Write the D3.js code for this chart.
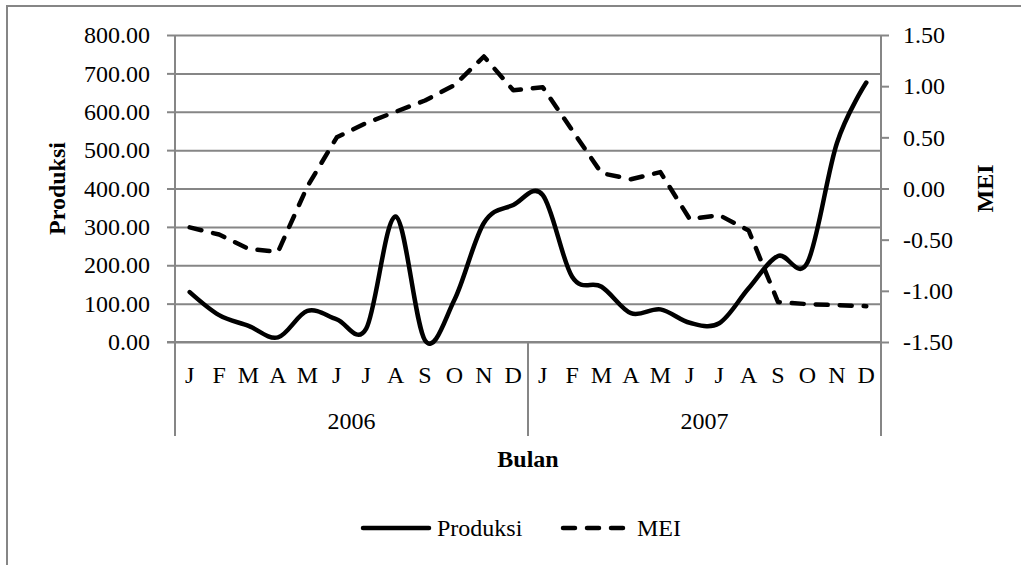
<!DOCTYPE html>
<html>
<head>
<meta charset="utf-8">
<script src="https://cdn.jsdelivr.net/npm/d3@7"></script>
<style>
  body { margin: 0; background: #fff; }
  text { font-family: "Liberation Serif", "Times New Roman", serif; fill: #000; }
  .axis-title { font-weight: bold; }
</style>
</head>
<body>
<div id="chart"></div>
<script>
const months = ["J", "F", "M", "A", "M", "J", "J", "A", "S", "O", "N", "D"];
const years = ["2006", "2007"];
const produksi = [130, 70, 42, 12, 81, 59, 35, 327, 4, 110, 310, 357,
                  383, 170, 144, 75, 85, 50, 49, 140, 224, 207, 518, 676];
const mei = [-0.38, -0.45, -0.59, -0.62, 0.02, 0.50, 0.64, 0.75, 0.86, 1.01, 1.29, 0.96,
             0.99, 0.57, 0.15, 0.09, 0.16, -0.30, -0.26, -0.41, -1.11, -1.13, -1.14, -1.15];
const leftTicks = [0, 100, 200, 300, 400, 500, 600, 700, 800];
const rightTicks = [-1.5, -1, -0.5, 0, 0.5, 1, 1.5];

const W = 1021, H = 565;
const MARGIN = { top: 35, right: 140, bottom: 223, left: 175 };
const innerW = W - MARGIN.left - MARGIN.right;
const innerH = H - MARGIN.top - MARGIN.bottom;
const GRAY = "#868686";
const FONT = 24;

const svg = d3.select("#chart").append("svg").attr("width", W).attr("height", H);

// outer chart border (runs off the right and bottom edges)
svg.append("rect")
  .attr("x", 7).attr("y", 6).attr("width", 1100).attr("height", 700)
  .attr("fill", "none").attr("stroke", GRAY).attr("stroke-width", 2);

const g = svg.append("g").attr("transform", `translate(${MARGIN.left},${MARGIN.top})`);

const cats = d3.range(months.length * years.length);
const x = d3.scaleBand().domain(cats).range([0, innerW]).padding(0);
const cx = i => x(i) + x.bandwidth() / 2;
const yL = d3.scaleLinear().domain([0, 800]).range([innerH, 0]);
const yR = d3.scaleLinear().domain([-1.5, 1.5]).range([innerH, 0]);
const fmt2 = d3.formatLocale({ decimal: ".", thousands: ",", grouping: [3], currency: ["", ""], minus: "-" }).format(".2f");

// gridlines
const grid = g.append("g")
  .call(d3.axisLeft(yL).tickValues(leftTicks).tickSize(-innerW).tickFormat(""));
grid.select(".domain").remove();
grid.selectAll("line").attr("stroke", GRAY).attr("stroke-width", 2);

// left axis
const gyL = g.append("g")
  .call(d3.axisLeft(yL).tickValues(leftTicks).tickSize(8).tickPadding(17).tickFormat(fmt2));
gyL.selectAll("line, .domain").attr("stroke", GRAY).attr("stroke-width", 2);
gyL.select(".domain").attr("d", `M0,${innerH}V0`);
gyL.selectAll("text").attr("font-size", FONT).attr("font-family", "Liberation Serif").attr("fill", "#000");

// right axis
const gyR = g.append("g").attr("transform", `translate(${innerW},0)`)
  .call(d3.axisRight(yR).tickValues(rightTicks).tickSize(8).tickPadding(14).tickFormat(fmt2));
gyR.selectAll("line, .domain").attr("stroke", GRAY).attr("stroke-width", 2);
gyR.select(".domain").attr("d", `M0,${innerH}V0`);
gyR.selectAll("text").attr("font-size", FONT).attr("font-family", "Liberation Serif").attr("fill", "#000");

// category axis: month labels + year groups
const gx = g.append("g").attr("transform", `translate(0,${innerH})`);
gx.append("line").attr("x1", -8).attr("x2", innerW)
  .attr("stroke", GRAY).attr("stroke-width", 2);
gx.selectAll("text.month").data(cats).join("text")
  .attr("class", "month")
  .attr("x", d => cx(d)).attr("y", 41)
  .attr("text-anchor", "middle").attr("font-size", FONT)
  .text(d => months[d % 12]);
const bounds = d3.range(years.length + 1).map(k => k * months.length);
gx.selectAll("line.sep").data(bounds).join("line")
  .attr("class", "sep")
  .attr("x1", d => d === cats.length ? innerW : x(d))
  .attr("x2", d => d === cats.length ? innerW : x(d))
  .attr("y1", 0).attr("y2", 94)
  .attr("stroke", GRAY).attr("stroke-width", 2);
gx.selectAll("text.year").data(years).join("text")
  .attr("class", "year")
  .attr("x", (d, k) => (x(k * 12) + x(k * 12 + 11) + x.bandwidth()) / 2)
  .attr("y", 87)
  .attr("text-anchor", "middle").attr("font-size", FONT)
  .text(d => d);

// axis titles
g.append("text").attr("class", "axis-title")
  .attr("x", innerW / 2).attr("y", innerH + 125)
  .attr("text-anchor", "middle").attr("font-size", FONT)
  .text("Bulan");
g.append("text").attr("class", "axis-title")
  .attr("transform", `translate(${-110},${innerH / 2}) rotate(-90)`)
  .attr("text-anchor", "middle").attr("font-size", FONT)
  .text("Produksi");
g.append("text").attr("class", "axis-title")
  .attr("transform", `translate(${innerW + 112},${innerH / 2}) rotate(-90)`)
  .attr("text-anchor", "middle").attr("font-size", FONT)
  .text("MEI");

// series: Produksi smoothed, MEI straight segments
const lineP = d3.line().x((d, i) => cx(i)).y(d => yL(d)).curve(d3.curveCatmullRom.alpha(0));
const lineM = d3.line().x((d, i) => cx(i)).y(d => yR(d));

g.append("path").datum(mei)
  .attr("d", lineM).attr("fill", "none").attr("stroke", "#000")
  .attr("stroke-width", 4.5).attr("stroke-linecap", "round").attr("stroke-linejoin", "round")
  .attr("stroke-dasharray", "12,12");
g.append("path").datum(produksi)
  .attr("d", lineP).attr("fill", "none").attr("stroke", "#000")
  .attr("stroke-width", 4.5).attr("stroke-linecap", "round")
  .attr("stroke-linejoin", "round");

// legend
const leg = svg.append("g").attr("transform", "translate(0,528)");
leg.append("line").attr("x1", 363).attr("x2", 429)
  .attr("stroke", "#000").attr("stroke-width", 4.5).attr("stroke-linecap", "round");
leg.append("text").attr("x", 437).attr("y", 8).attr("font-size", FONT).text("Produksi");
leg.append("line").attr("x1", 563).attr("x2", 625)
  .attr("stroke", "#000").attr("stroke-width", 4.5).attr("stroke-linecap", "round")
  .attr("stroke-dasharray", "12,12");
leg.append("text").attr("x", 637).attr("y", 8).attr("font-size", FONT).text("MEI");
</script>
</body>
</html>
